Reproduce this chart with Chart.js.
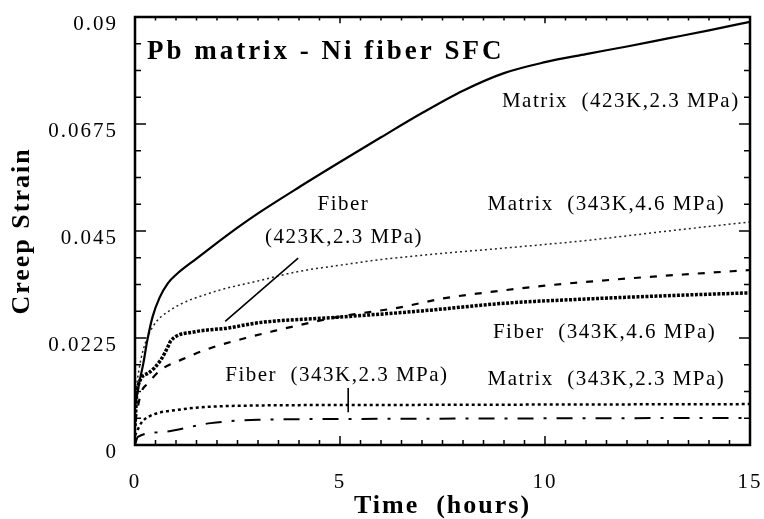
<!DOCTYPE html>
<html>
<head>
<meta charset="utf-8">
<script src="https://cdn.jsdelivr.net/npm/chart.js@4.4.1/dist/chart.umd.min.js"></script>
<style>
  html, body { margin: 0; padding: 0; background: #fff; }
  #wrap { width: 764px; height: 519px; }
</style>
</head>
<body>
<div id="wrap"><canvas id="creep" width="764" height="519"></canvas></div>
<script>
// axis ticks
const xTickValues = [0, 5, 10, 15];
const yTickValues = [0, 0.0225, 0.045, 0.0675, 0.09];
const yTickLabels = ['0', '0.0225', '0.045', '0.0675', '0.09'];

// Matrix (423K, 2.3 MPa) - solid
const matrix423Time   = [0, 0.1, 0.2, 0.3, 0.43, 0.6, 0.8, 1.0, 1.5, 2, 2.5, 3, 4, 5, 6, 7, 8, 9, 10, 11, 12, 13, 14, 15];
const matrix423Strain = [0.008, 0.013, 0.017, 0.022, 0.027, 0.031, 0.034, 0.0358, 0.0392, 0.0425, 0.0457, 0.0487, 0.0542, 0.0595, 0.0647, 0.0698, 0.0745, 0.0782, 0.0805, 0.0822, 0.0838, 0.0855, 0.0872, 0.089];

// Matrix (343K, 4.6 MPa) - fine dots
const matrix343hTime   = [0, 0.1, 0.2, 0.43, 0.87, 1.85, 3, 4, 5, 6, 7.5, 9, 11, 13, 15];
const matrix343hStrain = [0.010, 0.016, 0.020, 0.0248, 0.0284, 0.032, 0.0345, 0.0365, 0.0378, 0.039, 0.0403, 0.0414, 0.043, 0.045, 0.0469];

// Fiber (423K, 2.3 MPa) - dashes
const fiber423Time   = [0, 0.15, 0.32, 0.63, 1.12, 1.85, 2.7, 3.4, 4, 5, 6.5, 7.5, 8.5, 10, 12, 15];
const fiber423Strain = [0.005, 0.011, 0.013, 0.0158, 0.0179, 0.0204, 0.0225, 0.024, 0.0252, 0.027, 0.029, 0.0308, 0.032, 0.0335, 0.035, 0.0368];

// Fiber (343K, 4.6 MPa) - heavy dots
const fiber343hTime   = [0, 0.05, 0.32, 0.63, 0.8, 0.88, 1.46, 2.27, 3, 5, 7, 9, 11, 13, 15];
const fiber343hStrain = [0.004, 0.0115, 0.0151, 0.0179, 0.0206, 0.022, 0.0238, 0.0246, 0.0257, 0.0269, 0.0282, 0.0298, 0.0307, 0.0314, 0.032];

// Matrix (343K, 2.3 MPa) - dots
const matrix343lTime   = [0, 0.15, 0.32, 1.05, 2.9, 5, 10, 15];
const matrix343lStrain = [0.002, 0.0046, 0.0059, 0.0074, 0.0083, 0.0084, 0.0085, 0.0086];

// Fiber (343K, 2.3 MPa) - dash dot
const fiber343lTime   = [0, 0.07, 0.63, 1.85, 3, 6, 10, 15];
const fiber343lStrain = [0, 0.0017, 0.0027, 0.0046, 0.0053, 0.0055, 0.0056, 0.0057];

const serif = "'Liberation Serif', 'Times New Roman', serif";

const toPoints = (ts, vs) => ts.map((t, i) => ({ x: t, y: vs[i] }));

const curve = (label, ts, vs, width, dash, color) => ({
  label: label,
  data: toPoints(ts, vs),
  borderColor: color || '#000',
  borderWidth: width,
  borderDash: dash,
  pointRadius: 0,
  fill: false,
  cubicInterpolationMode: 'monotone'
});

// text placed in data units
const notes = [
  { text: 'Pb matrix - Ni fiber SFC', t: 0.29, s: 0.0826, bold: true, size: 27, spacing: 3 },
  { text: 'Matrix  (423K,2.3 MPa)', t: 8.95, s: 0.0723, size: 21, spacing: 1.5 },
  { text: 'Matrix  (343K,4.6 MPa)', t: 8.6, s: 0.0505, size: 21, spacing: 1.5 },
  { text: 'Fiber', t: 4.45, s: 0.0505, size: 21, spacing: 1.5 },
  { text: '(423K,2.3 MPa)', t: 3.17, s: 0.0437, size: 21, spacing: 1.5 },
  { text: 'Fiber  (343K,4.6 MPa)', t: 8.73, s: 0.0236, size: 21, spacing: 1.5 },
  { text: 'Fiber  (343K,2.3 MPa)', t: 2.2, s: 0.0147, size: 21, spacing: 1.5 },
  { text: 'Matrix  (343K,2.3 MPa)', t: 8.6, s: 0.0137, size: 21, spacing: 1.5 }
];
const pointers = [
  [[3.98, 0.0393], [2.2, 0.026]],
  [[5.2, 0.0120], [5.2, 0.0069]]
];

const frameTicks = {
  id: 'frameTicks',
  beforeDraw(chart) {
    chart.ctx.letterSpacing = '2px';
  },
  afterDatasetsDraw(chart) {
    const { ctx, chartArea: a, scales: { x, y } } = chart;
    ctx.save();
    ctx.strokeStyle = '#000';
    ctx.lineWidth = 1.5;
    ctx.beginPath();
    for (let i = 1; i < 30; i++) {
      const px = x.getPixelForValue(i * 0.5);
      const len = i % 10 === 0 ? 9 : 5;
      ctx.moveTo(px, a.bottom); ctx.lineTo(px, a.bottom - len);
      ctx.moveTo(px, a.top); ctx.lineTo(px, a.top + len * 0.7);
    }
    for (let i = 1; i < 16; i++) {
      const py = y.getPixelForValue(i * 0.005625);
      const len = i % 4 === 0 ? 11 : 6;
      ctx.moveTo(a.left, py); ctx.lineTo(a.left + len, py);
      ctx.moveTo(a.right, py); ctx.lineTo(a.right - len, py);
    }
    ctx.stroke();

    ctx.lineWidth = 1.6;
    ctx.beginPath();
    pointers.forEach(([p, q]) => {
      ctx.moveTo(x.getPixelForValue(p[0]), y.getPixelForValue(p[1]));
      ctx.lineTo(x.getPixelForValue(q[0]), y.getPixelForValue(q[1]));
    });
    ctx.stroke();

    ctx.lineWidth = 2.5;
    ctx.strokeRect(a.left, a.top, a.width, a.height);

    ctx.fillStyle = '#000';
    ctx.textBaseline = 'middle';
    ctx.textAlign = 'left';
    notes.forEach(n => {
      ctx.font = (n.bold ? 'bold ' : '') + n.size + 'px ' + serif;
      ctx.letterSpacing = n.spacing + 'px';
      ctx.fillText(n.text, x.getPixelForValue(n.t), y.getPixelForValue(n.s));
    });
    ctx.restore();
  }
};

new Chart(document.getElementById('creep'), {
  type: 'line',
  data: {
    datasets: [
      curve('Matrix (423K,2.3 MPa)', matrix423Time, matrix423Strain, 2.2, []),
      curve('Matrix (343K,4.6 MPa)', matrix343hTime, matrix343hStrain, 1.5, [2, 3], '#222'),
      curve('Fiber (423K,2.3 MPa)', fiber423Time, fiber423Strain, 2.2, [7, 9]),
      curve('Fiber (343K,4.6 MPa)', fiber343hTime, fiber343hStrain, 3.5, [3, 1.5]),
      curve('Matrix (343K,2.3 MPa)', matrix343lTime, matrix343lStrain, 2.5, [3, 3]),
      curve('Fiber (343K,2.3 MPa)', fiber343lTime, fiber343lStrain, 2, [16, 10, 3, 10])
    ]
  },
  options: {
    responsive: false,
    animation: false,
    layout: { padding: { top: 17, right: 14, left: 0, bottom: 0 } },
    plugins: {
      legend: { display: false },
      tooltip: { enabled: false }
    },
    scales: {
      x: {
        type: 'linear',
        min: 0,
        max: 15,
        afterFit: s => {
          s.height = 74;
          s.paddingLeft = 0;
          s.paddingRight = 0;
        },
        afterBuildTicks: s => { s.ticks = xTickValues.map(v => ({ value: v })); },
        grid: { display: false, drawTicks: false },
        border: { display: false },
        ticks: {
          padding: 25,
          maxRotation: 0,
          autoSkip: false,
          color: '#000',
          font: { family: serif, size: 21 }
        },
        title: {
          display: true,
          text: 'Time  (hours)',
          color: '#000',
          font: { family: serif, size: 26, weight: 'bold', lineHeight: 1 },
          padding: { top: 0, bottom: 0 }
        }
      },
      y: {
        min: 0,
        max: 0.09,
        afterFit: s => {
          s.width = 135;
          s.paddingTop = 0;
          s.paddingBottom = 0;
        },
        afterBuildTicks: s => { s.ticks = yTickValues.map(v => ({ value: v })); },
        grid: { display: false, drawTicks: false },
        border: { display: false },
        ticks: {
          padding: 17,
          labelOffset: 7,
          autoSkip: false,
          color: '#000',
          font: { family: serif, size: 21 },
          callback: (v, i) => yTickLabels[i]
        },
        title: {
          display: true,
          text: 'Creep Strain',
          color: '#000',
          font: { family: serif, size: 26, weight: 'bold', lineHeight: 1 },
          padding: { top: 9, bottom: 0 }
        }
      }
    }
  },
  plugins: [frameTicks]
});
</script>
</body>
</html>
